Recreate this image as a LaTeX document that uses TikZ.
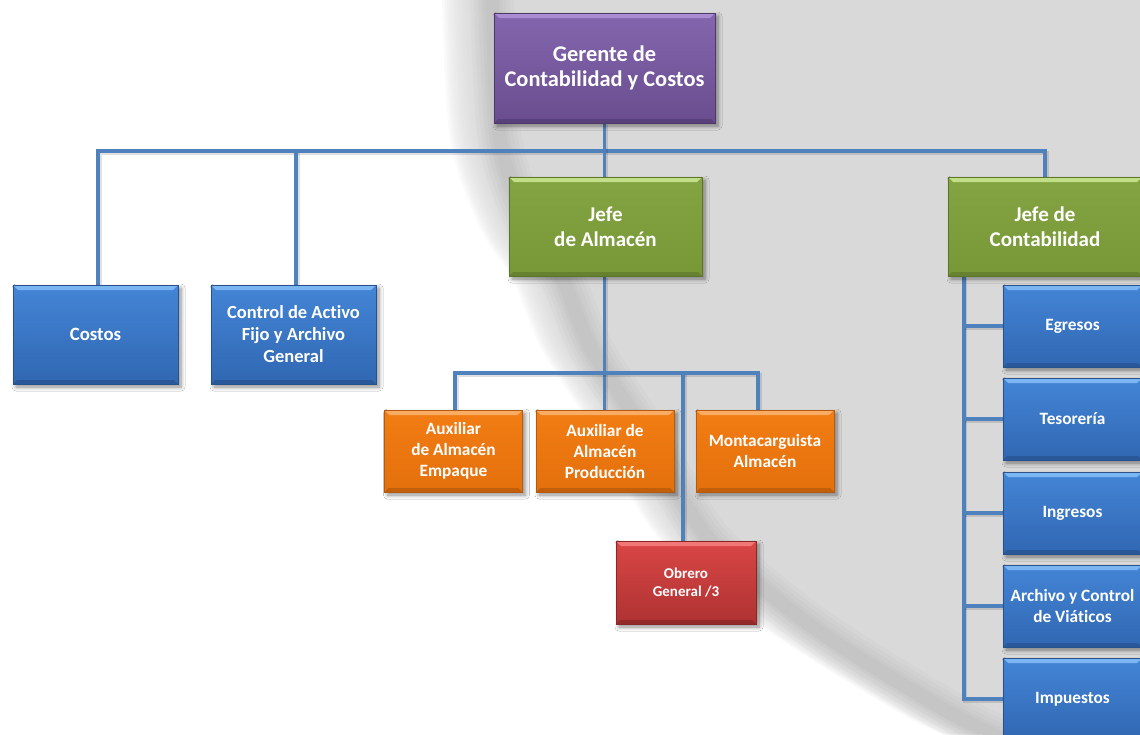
\documentclass[tikz,border=0pt]{standalone}
\usepackage{fontspec}
\setmainfont{Carlito}[Ligatures=NoCommon]
\usetikzlibrary{shadows.blur}

\definecolor{bggray}{HTML}{D9D9D9}
\definecolor{linkblue}{HTML}{4F81BD}
% box palettes: top, bottom, highlight, border
\definecolor{purTop}{HTML}{8466AE}\definecolor{purBot}{HTML}{694D8E}
\definecolor{purHi}{HTML}{A98CD2}\definecolor{purBd}{HTML}{4E3A6A}
\definecolor{grnTop}{HTML}{84A443}\definecolor{grnBot}{HTML}{789838}
\definecolor{grnHi}{HTML}{C2DE88}\definecolor{grnBd}{HTML}{5B7628}
\definecolor{bluTop}{HTML}{4485D6}\definecolor{bluBot}{HTML}{3067B2}
\definecolor{bluHi}{HTML}{7BB6F2}\definecolor{bluBd}{HTML}{28528E}
\definecolor{orgTop}{HTML}{F27D14}\definecolor{orgBot}{HTML}{E4700C}
\definecolor{orgHi}{HTML}{F9AC64}\definecolor{orgBd}{HTML}{B55A10}
\definecolor{redTop}{HTML}{DA4646}\definecolor{redBot}{HTML}{AE3232}
\definecolor{redHi}{HTML}{F27878}\definecolor{redBd}{HTML}{8C2626}

\pgfdeclarelayer{bg}
\pgfsetlayers{bg,main}

% the grey swoosh behind the chart
\newcommand\swooshfill[1]{\fill[#1] plot[smooth] coordinates {(482,-5) (490,140)
    (520,228) (553,280) (582,350) (640,440) (700,540) (807,630) (940,713) (1000,742)}
    -- (1200,742) -- (1200,-5) -- cycle;}
\newcommand\swooshedge[1]{\draw[#1] plot[smooth] coordinates {(482,-5) (490,140)
    (520,228) (553,280) (582,350) (640,440) (700,540) (807,630) (940,713) (1000,742)};}

\tikzset{
  card/.style n args={4}{
    rectangle, inner sep=2pt, align=center, text=white,
    top color=#1, bottom color=#2, draw=#4, line width=0.6pt,
    blur shadow={shadow xshift=3pt, shadow yshift=-3pt,
                 shadow blur steps=6, shadow blur radius=4pt, shadow opacity=45},
    path picture={
      \fill[#3] (path picture bounding box.north west)
        -- (path picture bounding box.north east)
        -- ([shift={(-5pt,-5pt)}]path picture bounding box.north east)
        -- ([shift={(5pt,-5pt)}]path picture bounding box.north west) -- cycle;
      \fill[#2!85!black] (path picture bounding box.south west)
        -- (path picture bounding box.south east)
        -- ([shift={(-4pt,4pt)}]path picture bounding box.south east)
        -- ([shift={(4pt,4pt)}]path picture bounding box.south west) -- cycle;
    }
  },
  purplebox/.style={card={purTop}{purBot}{purHi}{purBd}},
  greenbox/.style={card={grnTop}{grnBot}{grnHi}{grnBd}},
  bluebox/.style={card={bluTop}{bluBot}{bluHi}{bluBd}},
  orangebox/.style={card={orgTop}{orgBot}{orgHi}{orgBd}},
  redbox/.style={card={redTop}{redBot}{redHi}{redBd}},
  conn/.style={draw=linkblue, line width=3.8pt,
    preaction={draw=black, opacity=0.12, line width=4.5pt,
               transform canvas={shift={(1.5pt,-2pt)}}}},
}

\begin{document}
\begin{tikzpicture}[x=1pt,y=-1pt]
\useasboundingbox (0,0) rectangle (1140,734);
\clip (0,0) rectangle (1140,734);

% ---- staff boxes ----
\node[purplebox, minimum width=221pt, minimum height=110pt,
      font=\fontsize{22.4}{25.5}\selectfont\bfseries]
  (gerente) at (604.5,68) {Gerente de\\Contabilidad y Costos};

\node[greenbox, minimum width=193pt, minimum height=99pt,
      font=\fontsize{21}{25}\selectfont\bfseries]
  (jalm) at (605.5,226.5) {Jefe\\de Almacén};
\node[greenbox, minimum width=194pt, minimum height=99pt,
      font=\fontsize{21}{25}\selectfont\bfseries]
  (jcont) at (1045,226.5) {Jefe de\\Contabilidad};

\node[bluebox, minimum width=165pt, minimum height=99pt,
      font=\fontsize{18.8}{22}\selectfont\bfseries]
  (costos) at (95.5,334.5) {Costos};
\node[bluebox, minimum width=165pt, minimum height=99pt,
      font=\fontsize{18.5}{22}\selectfont\bfseries]
  (activo) at (293.5,334.5) {Control de Activo\\Fijo y Archivo\\General};

\tikzset{auxstyle/.style={orangebox, minimum width=138pt, minimum height=82pt,
      font=\fontsize{17.3}{21}\selectfont\bfseries}}
\node[auxstyle] (aux1) at (453.5,451) {Auxiliar\\de Almacén\\Empaque};
\node[auxstyle] (aux2) at (605,451) {Auxiliar de\\Almacén\\Producción};
\node[auxstyle] (monta) at (765,451) {Montacarguista\\Almacén};

\node[redbox, minimum width=140pt, minimum height=83pt,
      font=\fontsize{15}{17.5}\selectfont\bfseries]
  (obrero) at (686,582.5) {Obrero\\General /3};

\tikzset{rightstyle/.style={bluebox, minimum width=139pt, minimum height=82pt,
      font=\fontsize{17.3}{21.5}\selectfont\bfseries}}
\node[rightstyle] (egresos)   at (1072.5,326) {Egresos};
\node[rightstyle] (tesoreria) at (1072.5,419) {Tesorería};
\node[rightstyle] (ingresos)  at (1072.5,513) {Ingresos};
\node[rightstyle] (archivo)   at (1072.5,606) {Archivo y Control\\de Viáticos};
\node[rightstyle] (impuestos) at (1072.5,699) {Impuestos};

\coordinate (bus)   at (604.5,151);
\coordinate (bus2)  at (604.5,373);
\coordinate (spine) at ([xshift=16pt]jcont.south west);

\begin{pgfonlayer}{bg}
  % white page with a soft grey swoosh on the right
  \fill[white] (0,0) rectangle (1140,734);
  \foreach \i in {0,...,15}{
    \swooshfill{bggray, opacity=0.12, xshift={(\i-16)*2.5pt}}
  }
  \swooshfill{bggray}
  % darker shade hugging the swoosh edge
  \foreach \w in {44,36,28,20,14}{
    \swooshedge{black, opacity=0.016, line width=\w pt, xshift=10pt}
  }

  % connectors
  \draw[conn] ([xshift=2.5pt]costos.north) |- (bus) -| (jcont.north);
  \draw[conn] ([xshift=2.5pt]activo.north) -- ([xshift=2.5pt]activo.north |- bus);
  \draw[conn] (gerente.south) -- (jalm.north -| gerente.south);
  \draw[conn] (jalm.south -| bus) -- (aux2.north -| bus);
  \draw[conn] ([xshift=1.5pt]aux1.north) |- (bus2) -| ([xshift=-7pt]monta.north);
  \draw[conn] ([xshift=-3pt]obrero.north) -- ([xshift=-3pt]obrero.north |- bus2);
  \draw[conn] (spine) |- (impuestos.west);
  \foreach \n in {egresos,tesoreria,ingresos,archivo}
    \draw[conn] (\n.west) -- (\n.west -| spine);
\end{pgfonlayer}
\end{tikzpicture}
\end{document}
